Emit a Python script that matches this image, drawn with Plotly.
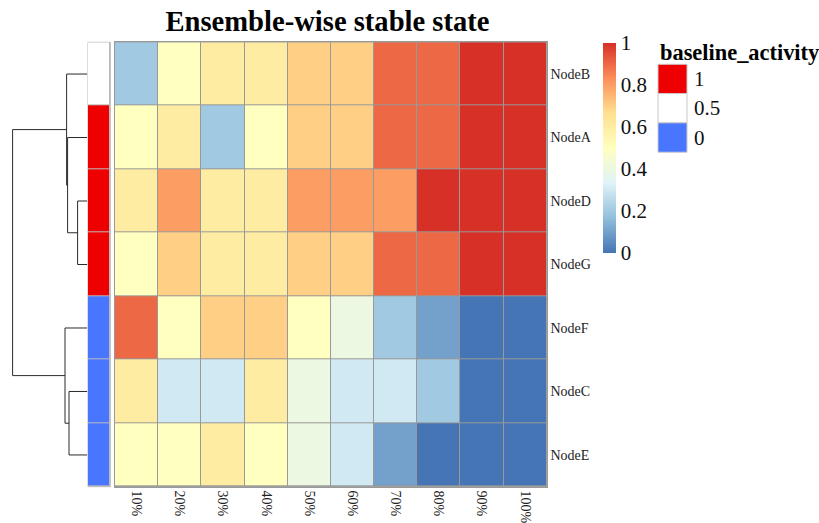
import plotly.graph_objects as go

# ---------------- data ----------------
col_labels = ["10%", "20%", "30%", "40%", "50%", "60%", "70%", "80%", "90%", "100%"]
row_labels = ["NodeB", "NodeA", "NodeD", "NodeG", "NodeF", "NodeC", "NodeE"]

NodeB = [0.2, 0.5, 0.6, 0.6, 0.7, 0.7, 0.9, 0.9, 1.0, 1.0]
NodeA = [0.5, 0.6, 0.2, 0.5, 0.7, 0.7, 0.9, 0.9, 1.0, 1.0]
NodeD = [0.6, 0.8, 0.6, 0.6, 0.8, 0.8, 0.8, 1.0, 1.0, 1.0]
NodeG = [0.5, 0.7, 0.6, 0.6, 0.7, 0.7, 0.9, 0.9, 1.0, 1.0]
NodeF = [0.9, 0.5, 0.7, 0.7, 0.5, 0.4, 0.2, 0.1, 0.0, 0.0]
NodeC = [0.6, 0.3, 0.3, 0.6, 0.4, 0.3, 0.3, 0.2, 0.0, 0.0]
NodeE = [0.5, 0.5, 0.6, 0.5, 0.4, 0.3, 0.1, 0.0, 0.0, 0.0]

baseline_activity = [0.5, 1, 1, 1, 0, 0, 0]
legend_levels = ["1", "0.5", "0"]

# hierarchical clustering merges: (left, right, height)
merges = [
    ("NodeD", "NodeG", 0.97),
    ("NodeA", "m0", 1.97),
    ("NodeB", "m1", 2.07),
    ("NodeC", "NodeE", 1.83),
    ("NodeF", "m3", 2.23),
    ("m2", "m4", 7.47),
]

# ---------------- styling ----------------
W, H = 819, 523
FONT = "Liberation Serif"
rdylbu_rev = ["#4575B4", "#91BFDB", "#E0F3F8", "#FFFFBF", "#FEE090", "#FC8D59", "#D73027"]
colorscale = [[i / 6, c] for i, c in enumerate(rdylbu_rev)]
anno_colors = {1: "#EE0000", 0.5: "#FFFFFF", 0: "#4876FF"}
grid_col = "#999999"

def px_x(p):
    return p / W

def px_y(p):
    return 1 - p / H

hm_x0, hm_x1 = 115.0, 546.7
hm_y0, hm_y1 = 42.3, 486.7
an_x0, an_x1 = 88.0, 110.3
dg_x1 = 87.3

z = [NodeB, NodeA, NodeD, NodeG, NodeF, NodeC, NodeE]
rows = list(range(len(row_labels)))
cols = list(range(len(col_labels)))

fig = go.Figure()

# main heatmap
fig.add_trace(go.Heatmap(
    z=z, x=cols, y=rows, colorscale=colorscale, zmin=0, zmax=1,
    xgap=1, ygap=1, xaxis="x", yaxis="y", hoverinfo="skip",
    colorbar=dict(
        x=px_x(603), xanchor="left", xpad=0,
        y=px_y(42.7), yanchor="top", ypad=0,
        len=210.3, lenmode="pixels", thickness=13, thicknessmode="pixels",
        outlinewidth=0, ticks="",
        tickvals=[0, 0.2, 0.4, 0.6, 0.8, 1.0],
        ticktext=["0", "0.2", "0.4", "0.6", "0.8", "1"],
        tickfont=dict(family=FONT, size=21, color="#111"),
    ),
))

# annotation column
anno_scale = [[0, anno_colors[0]], [0.5, anno_colors[0.5]], [1, anno_colors[1]]]
fig.add_trace(go.Heatmap(
    z=[[v] for v in baseline_activity], x=[0], y=rows,
    colorscale=anno_scale, zmin=0, zmax=1, showscale=False,
    xgap=1, ygap=1, xaxis="x2", yaxis="y2", hoverinfo="skip",
))

# dendrogram
pos = {name: (i, 0.0) for i, name in enumerate(row_labels)}
for k, (a, b, h) in enumerate(merges):
    ya, ha = pos[a]
    yb, hb = pos[b]
    fig.add_trace(go.Scatter(
        x=[ha, h, h, hb], y=[ya, ya, yb, yb], mode="lines",
        line=dict(color="#2a2a2a", width=1), xaxis="x3", yaxis="y3",
        showlegend=False, hoverinfo="skip",
    ))
    pos["m%d" % k] = ((ya + yb) / 2, h)

yr = [len(rows) - 0.5, -0.5]
fig.update_layout(
    width=W, height=H, margin=dict(l=0, r=0, t=0, b=0),
    paper_bgcolor="white", plot_bgcolor="white", showlegend=False,
    title=dict(text="<b>Ensemble-wise stable state</b>", x=px_x(327.5), xanchor="center",
               y=px_y(21), yanchor="middle", font=dict(family=FONT, size=28.6, color="#000")),
    xaxis=dict(domain=[px_x(hm_x0), px_x(hm_x1)], range=[-0.5, len(cols) - 0.5],
               tickvals=cols, ticktext=col_labels, tickangle=90, ticks="",
               tickfont=dict(family=FONT, size=14, color="#222"),
               showgrid=False, zeroline=False, showline=True, mirror=True,
               linecolor=grid_col, linewidth=1, anchor="y"),
    yaxis=dict(domain=[px_y(hm_y1), px_y(hm_y0)], range=yr, side="right",
               tickvals=rows, ticktext=row_labels, ticks="",
               tickfont=dict(family=FONT, size=14, color="#222"),
               showgrid=False, zeroline=False, showline=True, mirror=True,
               linecolor=grid_col, linewidth=1, anchor="x"),
    xaxis2=dict(domain=[px_x(an_x0), px_x(an_x1)], range=[-0.5, 0.5], visible=False,
                anchor="y2"),
    yaxis2=dict(domain=[px_y(hm_y1), px_y(hm_y0)], range=yr, visible=False, anchor="x2"),
    xaxis3=dict(domain=[0, px_x(dg_x1)], range=[8.73, 0], visible=False, anchor="y3"),
    yaxis3=dict(domain=[px_y(hm_y1), px_y(hm_y0)], range=yr, visible=False, anchor="x3"),
)

# grey grid backgrounds behind heatmaps
for xr, yref in [("x domain", "y domain"), ("x2 domain", "y2 domain")]:
    fig.add_shape(type="rect", xref=xr, yref=yref, x0=0, x1=1, y0=0, y1=1,
                  fillcolor=grid_col if xr == "x domain" else "#BBBBBB",
                  line=dict(width=1, color=grid_col if xr == "x domain" else "#BBBBBB"),
                  layer="below")

# legend for baseline_activity
fig.add_annotation(text="<b>baseline_activity</b>", x=px_x(658), y=px_y(52),
                   xref="paper", yref="paper", xanchor="left", yanchor="middle",
                   showarrow=False, font=dict(family=FONT, size=22.4, color="#000"))
box_top, box_h = 64.3, 29.3
for i, lev in enumerate(legend_levels):
    t = box_top + i * box_h
    fig.add_shape(type="rect", xref="paper", yref="paper",
                  x0=px_x(658), x1=px_x(687), y0=px_y(t + box_h), y1=px_y(t),
                  fillcolor=anno_colors[float(lev) if lev == "0.5" else int(lev)],
                  line=dict(color="#C8C8C8", width=1))
    fig.add_annotation(text=lev, x=px_x(692), y=px_y(t + box_h / 2), xref="paper", yref="paper",
                       xanchor="left", yanchor="middle", showarrow=False,
                       font=dict(family=FONT, size=21, color="#111"))

fig.write_html("out.html")
